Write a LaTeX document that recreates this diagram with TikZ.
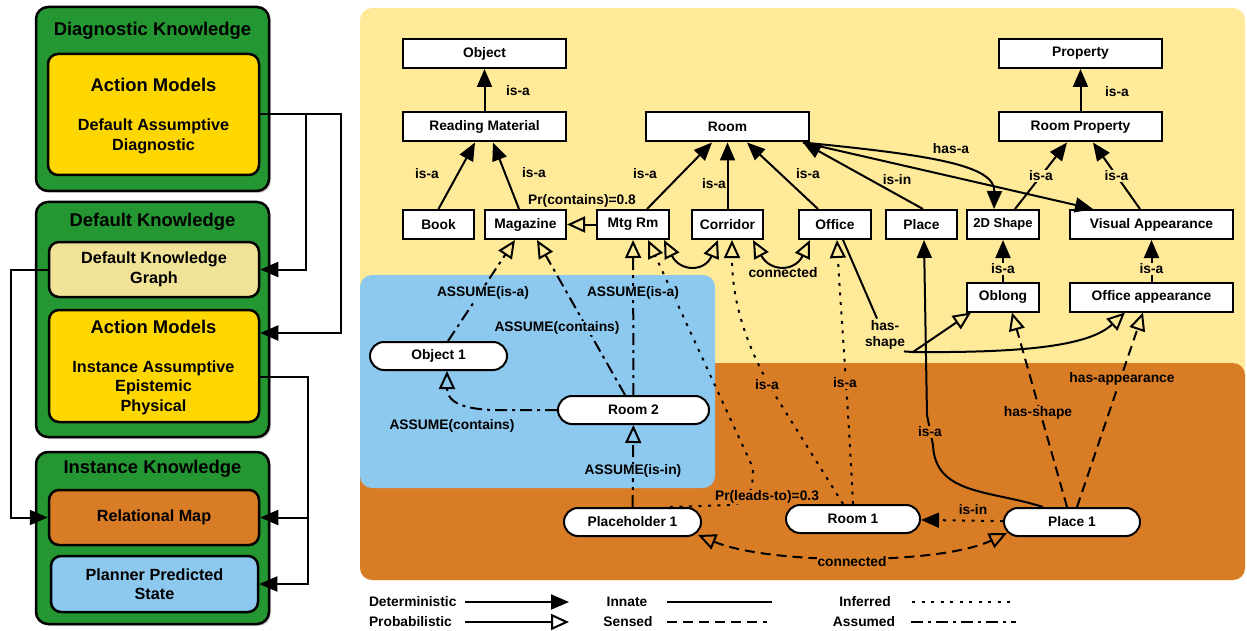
\documentclass[tikz,border=0pt]{standalone}
\usepackage{fontspec}
\setmainfont{Liberation Sans}
\usetikzlibrary{arrows.meta,shadows}

\definecolor{kgreen}{RGB}{36,150,50}
\definecolor{kgold}{RGB}{255,215,0}
\definecolor{kkhaki}{RGB}{240,226,150}
\definecolor{korange}{RGB}{217,124,38}
\definecolor{kblue}{RGB}{141,200,238}
\definecolor{kyellow}{RGB}{255,234,153}

\newcommand\lblfont{\fontsize{13.8}{16}\selectfont\bfseries}
\newcommand\headfont{\fontsize{18.4}{22}\selectfont\bfseries}
\newcommand\innerfont{\fontsize{16.2}{19.5}\selectfont\bfseries}

\begin{document}
\begin{tikzpicture}[->,>={Triangle[length=18pt,width=15pt]},x=1pt,y=-1pt,
  line width=2pt,
  know box/.style={rectangle,rounded corners=12pt,fill=kgreen,draw,line width=2.5pt,
    drop shadow={shadow xshift=2pt,shadow yshift=-2pt,opacity=0.35}},
  part box/.style={rectangle,rounded corners=10pt,draw,line width=2.5pt},
  class node/.style={rectangle,fill=white,draw,minimum height=29pt,inner sep=0pt,font=\lblfont},
  inst node/.style={rectangle,rounded corners=14pt,fill=white,draw,minimum height=28pt,inner sep=0pt,font=\lblfont},
  head/.style={font=\headfont,inner sep=0pt},
  inner text/.style={font=\innerfont,align=center,inner sep=0pt},
  lbl/.style={font=\lblfont,inner sep=1pt,align=center},
  prob/.style={-{Triangle[open,length=18pt,width=16pt]}},
  both prob/.style={{Triangle[open,length=18pt,width=16pt]}-{Triangle[open,length=18pt,width=16pt]}},
  sensed/.style={dash pattern=on 10pt off 6pt},
  inferred/.style={dash pattern=on 3pt off 6.5pt},
  assumed/.style={dash pattern=on 12pt off 5pt on 3pt off 5pt}]

  \useasboundingbox (0,0) rectangle (1247,631);

  % backgrounds
  \fill[kyellow,rounded corners=12pt] (360,8) rectangle (1245,580);
  \fill[korange,rounded corners=12pt] (360,363) rectangle (1245,580);
  \fill[kblue,rounded corners=12pt] (360,275) rectangle (715,488);

  % left panel
  \node[know box,minimum width=233pt,minimum height=184pt] (diag) at (152.5,99) {};
  \node[part box,fill=kgold,minimum width=211pt,minimum height=121pt] (am1) at (153.5,114.5) {};
  \node[head] (diagt) at (152.5,31) {Diagnostic Knowledge};
  \node[head] (am1t) at (153.5,85) {Action Models};
  \node[inner text] (am1s) at (153.5,136.5) {Default Assumptive\\Diagnostic};

  \node[know box,minimum width=233pt,minimum height=235pt] (defk) at (152.5,319.5) {};
  \node[part box,fill=kkhaki,minimum width=210pt,minimum height=55pt,inner text] (dkg) at (154,269.5) {Default Knowledge\\Graph};
  \node[part box,fill=kgold,minimum width=210pt,minimum height=112pt] (am2) at (154,366) {};
  \node[head] (defkt) at (152.5,222) {Default Knowledge};
  \node[head] (am2t) at (153.5,327) {Action Models};
  \node[inner text] (am2s) at (153.5,387.5) {Instance Assumptive\\Epistemic\\Physical};

  \node[know box,minimum width=233pt,minimum height=172pt] (instk) at (152.5,538) {};
  \node[part box,fill=korange,minimum width=210pt,minimum height=55pt,inner text] (rmap) at (154,517.5) {Relational Map};
  \node[part box,fill=kblue,minimum width=207pt,minimum height=56pt,inner text] (pps) at (154.5,584) {Planner Predicted\\State};
  \node[head] (instkt) at (152.5,469) {Instance Knowledge};

  \draw (am1.east) -- ++(46,0) |- (dkg.east);
  \draw (am1.east) -- ++(81,0) |- ([yshift=33pt]am2.east);
  \draw (dkg.west) -- ++(-37,0) |- (rmap.west);
  \draw ([yshift=-11pt]am2.east) -- ++(48,0) coordinate (split) |- (pps.east);
  \draw (split |- rmap.east) -- (rmap.east);

  % class nodes
  \node[class node,minimum width=163pt] (obj) at (484.5,53.5) {Object};
  \node[class node,minimum width=163pt] (readm) at (484.5,127) {Reading Material};
  \node[class node,minimum width=71pt] (book) at (438.5,224.5) {Book};
  \node[class node,minimum width=81pt] (mag) at (525.5,224.5) {Magazine};
  \node[class node,minimum width=72pt] (mtg) at (633,224.5) {Mtg Rm};
  \node[class node,minimum width=71pt] (corr) at (727.5,224.5) {Corridor};
  \node[class node,minimum width=163pt] (room) at (727.5,127) {Room};
  \node[class node,minimum width=72pt] (office) at (835,224.5) {Office};
  \node[class node,minimum width=71pt] (place) at (921.5,224.5) {Place};
  \node[class node,minimum width=72pt,font=\fontsize{13}{15}\selectfont\bfseries] (shape) at (1003,224.5) {2D Shape};
  \node[class node,minimum width=163pt] (visual) at (1151.5,224.5) {Visual Appearance};
  \node[class node,minimum width=163pt] (prop) at (1080.5,53.5) {Property};
  \node[class node,minimum width=163pt] (roomprop) at (1080.5,127) {Room Property};
  \node[class node,minimum width=72pt] (oblong) at (1003,297) {Oblong};
  \node[class node,minimum width=163pt] (offapp) at (1151.5,297) {Office appearance};

  % instance nodes
  \node[inst node,minimum width=137pt] (obj1) at (438.5,356) {Object 1};
  \node[inst node,minimum width=151pt] (room2) at (633.5,410) {Room 2};
  \node[inst node,minimum width=137pt] (ph1) at (632.5,522) {Placeholder 1};
  \node[inst node,minimum width=134pt] (room1) at (853,519) {Room 1};
  \node[inst node,minimum width=136pt] (place1) at (1072,522) {Place 1};

  \path[every node/.style={lbl}]
    (readm) edge (obj)
    (book.north) edge ([xshift=-9.5pt]readm.south)
    ([xshift=-6.5pt]mag.north) edge ([xshift=8.5pt]readm.south)
    ([xshift=14pt]mtg.north) edge ([xshift=-15.5pt]room.south)
    (corr) edge (room)
    ([xshift=-17pt]office.north) edge ([xshift=19.5pt]room.south)
    ([xshift=1.5pt]place.north) edge ([xshift=-7pt]room.south east)
    (roomprop) edge (prop)
    ([xshift=-7pt]room.south east) edge ([xshift=-58.5pt]visual.north)
    (oblong) edge node[fill=kyellow,pos=0.3] (isa13) {is-a} (shape)
    (offapp) edge node[fill=kyellow,pos=0.3] (isa14) {is-a} (visual)
    ([xshift=12pt]shape.north) edge node[fill=kyellow] (isa10) {is-a} ([xshift=-13.5pt]roomprop.south)
    ([xshift=-11.5pt]visual.north) edge node[fill=kyellow] (isa11) {is-a} ([xshift=12.5pt]roomprop.south);

  \draw ([xshift=-7pt]room.south east) .. controls (930,155) and (995,165) .. ([xshift=-9pt]shape.north);
  \draw[prob] (mtg) -- (mag);
  \draw[both prob] ([xshift=-6pt]mtg.south east) .. controls (680,272) and (705,272) .. ([xshift=-9.5pt]corr.south);
  \draw[both prob] ([xshift=-11pt]corr.south east) .. controls (770,272) and (795,272) .. ([xshift=-25pt]office.south);

  % has-shape from Office
  \node[lbl] (hs) at (885,335) {has-\\shape};
  \coordinate (hsj) at (913,352);
  \draw[-] ([xshift=8pt]office.south) -- ([xshift=-8pt]hs.north);
  \draw[prob] ([xshift=-3pt]hs.south east) -- (hsj) -- ([xshift=5pt]oblong.south west);
  \draw[prob] (hsj) .. controls (1030,353) and (1090,345) .. ([xshift=-26.5pt]offapp.south);

  % assumed
  \draw[prob,assumed] ([xshift=9.5pt]obj1.north) -- ([xshift=-10.5pt]mag.south);
  \draw[prob,assumed] ([xshift=-8.5pt]room2.north) -- ([xshift=11.5pt]mag.south);
  \draw[prob,assumed] (room2) -- (mtg);
  \draw[prob,assumed] (room2.west) -- ++(-63,0) .. controls (455,409) and (447,398) .. ([xshift=8.5pt]obj1.south);
  \draw[prob,assumed] (ph1) -- (room2);

  % inferred
  \draw[prob,inferred] ([xshift=-10pt]room1.north) -- (775,395) .. controls (745,345) and (732,300) .. ([xshift=4.5pt]corr.south);
  \draw[prob,inferred] (room1.north) .. controls (848,400) and (840,300) .. ([xshift=2pt]office.south);
  \draw[prob,inferred] ([xshift=37.5pt]ph1.north) -- (730,505) .. controls (750,503) and (753,490) .. (753,468) -- ([xshift=15pt]mtg.south);
  \draw[inferred] (place1) -- (room1);

  % innate / sensed from Place 1
  \draw ([xshift=-29pt]place1.north) .. controls (990,490) and (935,495) .. (933,445) -- (927,415) -- ([xshift=2.5pt]place.south);
  \draw[prob,sensed] ([xshift=-5pt]place1.north) -- ([xshift=9pt]oblong.south);
  \draw[prob,sensed] ([xshift=5pt]place1.north) -- ([xshift=-8.5pt]offapp.south);
  \draw[both prob,sensed] ([xshift=-4pt,yshift=-13pt]ph1.east) .. controls (770,565) and (940,565) .. ([xshift=4pt,yshift=-11pt]place1.west);

  % labels
  \node[lbl] (isa1) at (518,91) {is-a};
  \node[lbl] (isa2) at (427,174) {is-a};
  \node[lbl] (isa3) at (534,173) {is-a};
  \node[lbl] (isa4) at (645,174) {is-a};
  \node[lbl] (isa5) at (714,184) {is-a};
  \node[lbl] (isa6) at (808,174) {is-a};
  \node[lbl] (isin1) at (897,180) {is-in};
  \node[lbl] (hasa) at (951,149) {has-a};
  \node[lbl] (isa12) at (1117,92) {is-a};
  \node[lbl] (prc) at (582,201) {Pr(contains)=0.8};
  \node[lbl] (conn1) at (783,273) {connected};
  \node[lbl,fill=kblue] (as1) at (483,293) {ASSUME(is-a)};
  \node[lbl,fill=kblue] (as2) at (557,328) {ASSUME(contains)};
  \node[lbl,fill=kblue] (as3) at (633,293) {ASSUME(is-a)};
  \node[lbl] (as4) at (452,426) {ASSUME(contains)};
  \node[lbl,fill=kblue] (as5) at (633,471) {ASSUME(is-in)};
  \node[lbl,fill=korange] (isa7) at (767,385) {is-a};
  \node[lbl,fill=korange] (isa8) at (845,383) {is-a};
  \node[lbl,fill=korange] (prl) at (767,497) {Pr(leads-to)=0.3};
  \node[lbl,fill=korange] (isa9) at (930,432) {is-a};
  \node[lbl] (isin2) at (973,510) {is-in};
  \node[lbl,fill=korange] (hshape) at (1038,413) {has-shape};
  \node[lbl,fill=korange] (happ) at (1122,379) {has-appearance};
  \node[lbl,fill=korange] (conn2) at (852,562) {connected};

  % legend
  \node[lbl,anchor=west] (ldet) at (367,602) {Deterministic};
  \node[lbl,anchor=west] (lprob) at (367,622) {Probabilistic};
  \node[lbl] (linn) at (627,602) {Innate};
  \node[lbl] (lsen) at (628,622) {Sensed};
  \node[lbl] (linf) at (865,602) {Inferred};
  \node[lbl] (lass) at (864,622) {Assumed};
  \coordinate (d0) at (465,602); \coordinate (d1) at (569,602);
  \coordinate (p0) at (465,622); \coordinate (p1) at (569,622);
  \coordinate (i0) at (667,602); \coordinate (i1) at (772,602);
  \coordinate (s0) at (667,622); \coordinate (s1) at (767,622);
  \coordinate (f0) at (912,602); \coordinate (f1) at (1015,602);
  \coordinate (a0) at (911,622); \coordinate (a1) at (1016,622);
  \draw (d0) -- (d1);
  \draw[prob] (p0) -- (p1);
  \draw[-] (i0) -- (i1);
  \draw[-,sensed] (s0) -- (s1);
  \draw[-,inferred] (f0) -- (f1);
  \draw[-,assumed] (a0) -- (a1);

\end{tikzpicture}
\end{document}
